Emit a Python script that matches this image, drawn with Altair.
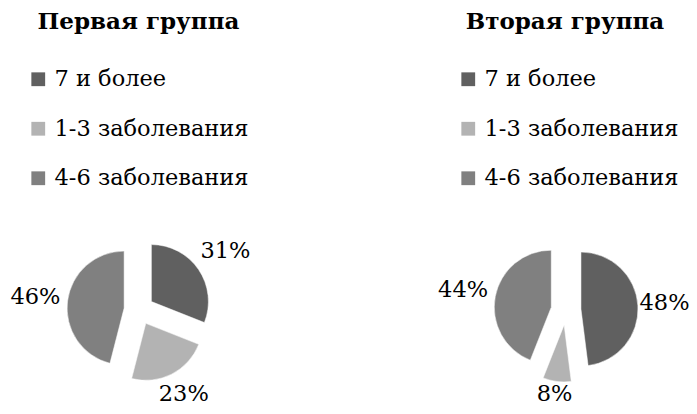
import altair as alt
import pandas as pd

categories = ["7 и более", "1-3 заболевания", "4-6 заболевания"]
group1 = [31, 23, 46]
group2 = [48, 8, 44]
titles = ["Первая группа", "Вторая группа"]
colors = ["#606060", "#b3b3b3", "#808080"]

FONT = "DejaVu Serif"
FS = 22.5     # label / legend font size
W, H = 681, 398
R = 57        # pie radius
D = 15        # explosion distance
GAP = 8       # label gap outside the arc


def pie(values, title, cx, cy, legend_x, title_x):
    df = pd.DataFrame({"cat": categories, "val": values, "ord": list(range(len(values)))})
    base = (
        alt.Chart(df)
        .transform_window(cum="sum(val)", sort=[alt.SortField("ord")], frame=[None, 0])
        .transform_calculate(
            t1="datum.cum / 100 * 2 * PI",
            t0="(datum.cum - datum.val) / 100 * 2 * PI",
        )
        .transform_calculate(mid="(datum.t0 + datum.t1) / 2")
        .transform_calculate(
            ax=f"{cx} + {D} * sin(datum.mid)",
            ay=f"{cy} - {D} * cos(datum.mid)",
            label="datum.val + '%'",
        )
        .transform_calculate(hw="5.5 + 6 * length(datum.label)")
        .transform_calculate(
            L=f"{R} + {GAP} + datum.hw * abs(sin(datum.mid)) + 9 * abs(cos(datum.mid))"
        )
        .transform_calculate(
            lx=f"min(datum.ax + datum.L * sin(datum.mid), {W} - datum.hw - 1)",
            ly=f"min(datum.ay - datum.L * cos(datum.mid), {H} - {FS} / 2 - 1)",
        )
    )
    arcs = base.mark_arc(radius=R, stroke="white", strokeWidth=0.5).encode(
        theta=alt.Theta("t0:Q", scale=None),
        theta2=alt.Theta2("t1:Q"),
        x=alt.X("ax:Q", scale=None, axis=None),
        y=alt.Y("ay:Q", scale=None, axis=None),
        color=alt.Color(
            "cat:N",
            scale=alt.Scale(domain=categories, range=colors),
            sort=categories,
            legend=alt.Legend(
                orient="none",
                legendX=legend_x,
                legendY=60,
                title=None,
                symbolType="square",
                symbolSize=190,
                symbolStrokeWidth=0,
                labelFont=FONT,
                labelFontSize=FS,
                labelColor="#000000",
                labelOffset=5,
                rowPadding=26.5,
                labelLimit=400,
            ),
        ),
    )
    labels = base.mark_text(font=FONT, fontSize=FS, color="#000000", baseline="middle").encode(
        x=alt.X("lx:Q", scale=None, axis=None),
        y=alt.Y("ly:Q", scale=None, axis=None),
        text="label:N",
    )
    ttl = (
        alt.Chart(pd.DataFrame({"t": [title]}))
        .mark_text(font=FONT, fontSize=23, fontWeight="bold", color="#000000", baseline="middle")
        .encode(text="t:N", x=alt.value(title_x), y=alt.value(14))
    )
    return alt.layer(arcs, labels, ttl)


p1 = pie(group1, titles[0], 131, 302, 19, 130.5)
p2 = pie(group2, titles[1], 558, 302, 449, 557)

chart = (
    alt.layer(p1, p2)
    .resolve_scale(color="independent")
    .properties(
        width=W,
        height=H,
        padding=0,
        background="white",
        autosize=alt.AutoSizeParams(type="none"),
    )
    .configure_view(stroke=None)
)

chart.save("out.html", embed_options={"renderer": "svg", "actions": False})
